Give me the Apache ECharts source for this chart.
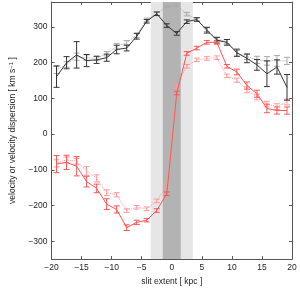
<!DOCTYPE html>
<html>
<head>
<meta charset="utf-8">
<script src="https://cdn.jsdelivr.net/npm/echarts@6/dist/echarts.min.js"></script>
<style>
html,body{margin:0;padding:0;background:#fff;}
#chart{width:300px;height:291px;}
</style>
</head>
<body>
<div id="chart"></div>
<script>
// slit positions (kpc)
const xs = [-19.17,-17.5,-15.83,-14.17,-12.5,-10.83,-9.17,-7.5,-5.83,-4.17,-2.5,-0.83,0.83,2.5,4.17,5.83,7.5,9.17,10.83,12.5,14.17,15.83,17.5,19.17];
// velocity dispersion (solid black) and error
const dispSolid = [161,200,222,206,208,214,237,241,274,316,337,304,282,315,321,291,263,257,228,212,194,169,188,131];
const dispSolidErr = [30,17,37,17,10,10,12,8,8,5,5,5,5,5,5,8,8,8,10,12,15,36,20,36];
// velocity dispersion (dotted grey) and error
const dispDotted = [180,195,217,214,212,225,246,256,277,320,337,357,361,336,321,293,265,259,226,217,208,205,205,205];
const dispDottedErr = [10,8,10,8,6,6,8,6,6,5,5,3,3,5,5,6,6,6,8,8,10,12,15,10];
// velocity (solid red) and error
const velSolid = [-84,-79,-90,-133,-152,-196,-211,-262,-247,-241,-214,-167,115,226,241,257,257,190,174,136,113,72,66,66];
const velSolidErr = [24,20,27,15,12,15,10,8,6,5,5,5,5,5,5,5,5,5,8,10,10,12,10,10];
// velocity (dotted pink) and error
const velDotted = [-82,-72,-76,-103,-124,-164,-170,-214,-205,-209,-187,-145,134,190,208,212,214,163,151,124,104,84,77,90];
const velDottedErr = [10,8,8,12,10,8,6,5,5,5,5,5,5,5,5,5,5,5,6,8,8,8,8,8];
// tick values
const xTicks = [-20,-15,-10,-5,0,5,10,15,20];
const yTicks = [-300,-200,-100,0,100,200,300];
// shaded bands (kpc)
const lightBand = [-3.5,3.5];
const darkBand = [-1.5,1.5];

function fmt(v){ return String(v).replace('-', '\u2212'); }

function errSeries(ys, es, color, z){
  return {
    type:'custom', z:z, clip:true, silent:true,
    renderItem:function(params, api){
      const x = api.value(0), y = api.value(1), e = api.value(2);
      const t = api.coord([x, y+e]);
      const b = api.coord([x, y-e]);
      const w = 3;
      const st = {stroke:color, lineWidth:1};
      return {type:'group', children:[
        {type:'line', shape:{x1:t[0],y1:t[1],x2:b[0],y2:b[1]}, style:st},
        {type:'line', shape:{x1:t[0]-w,y1:t[1],x2:t[0]+w,y2:t[1]}, style:st},
        {type:'line', shape:{x1:b[0]-w,y1:b[1],x2:b[0]+w,y2:b[1]}, style:st}
      ]};
    },
    data: xs.map((x,i)=>[x, ys[i], es[i]])
  };
}
function lineSeries(ys, color, type, z){
  return {
    type:'line', z:z, showSymbol:false, silent:true,
    lineStyle:{color:color, width:1, type:type},
    data: xs.map((x,i)=>[x, ys[i]])
  };
}

const font = 'Liberation Sans, Arial, sans-serif';
const chart = echarts.init(document.getElementById('chart'), null, {renderer:'canvas'});
function tickCfg(vals){
  const t = {show:true, inside:true, length:3, lineStyle:{color:'#555'}};
  if (vals) t.customValues = vals;
  return t;
}
const lineCfg = {show:true, onZero:false, lineStyle:{color:'#555', width:1}};
chart.setOption({
  animation:false,
  backgroundColor:'#fff',
  grid:{left:40, right:8, top:2, bottom:24, containLabel:false},
  xAxis:[
    {type:'value', position:'bottom', min:-20, max:20, interval:5,
      axisLine:lineCfg, axisTick:tickCfg(), splitLine:{show:false},
      name:'slit extent [ kpc ]', nameLocation:'middle', nameGap:13,
      nameTextStyle:{fontSize:8.5, color:'#222', fontFamily:font},
      axisLabel:{fontSize:8.5, color:'#222', fontFamily:font, margin:4, formatter:fmt}},
    {type:'value', position:'top', min:-20, max:20, interval:5,
      axisLine:lineCfg, axisTick:tickCfg(), splitLine:{show:false},
      axisLabel:{show:false}}
  ],
  yAxis:[
    {type:'value', position:'left', min:-350, max:370,
      axisLine:lineCfg, axisTick:tickCfg(yTicks), splitLine:{show:false},
      name:'velocity or velocity dispersion [ km s{sup|\u22121} ]', nameLocation:'middle', nameGap:25,
      nameTextStyle:{fontSize:8.5, color:'#222', fontFamily:font,
        rich:{sup:{fontSize:6, color:'#222', fontFamily:font, verticalAlign:'top', padding:[0,0,4,0]}}},
      axisLabel:{fontSize:8.5, color:'#222', fontFamily:font, margin:4, formatter:fmt,
        customValues:yTicks}},
    {type:'value', position:'right', min:-350, max:370,
      axisLine:lineCfg, axisTick:tickCfg(yTicks), splitLine:{show:false},
      axisLabel:{show:false}}
  ],
  series:[
    {type:'line', z:0, data:[], silent:true,
      markArea:{silent:true, data:[
        [{xAxis:lightBand[0], itemStyle:{color:'#e6e6e6'}},{xAxis:lightBand[1]}],
        [{xAxis:darkBand[0], itemStyle:{color:'#b3b3b3'}},{xAxis:darkBand[1]}]
      ]}},
    lineSeries(dispDotted, '#aaaaaa', 'dotted', 2),
    errSeries(dispDotted, dispDottedErr, '#aaaaaa', 2),
    lineSeries(velDotted, '#ff9a9a', 'dotted', 2),
    errSeries(velDotted, velDottedErr, '#ff9a9a', 2),
    lineSeries(dispSolid, '#333333', 'solid', 3),
    errSeries(dispSolid, dispSolidErr, '#333333', 3),
    lineSeries(velSolid, '#ff5555', 'solid', 3),
    errSeries(velSolid, velSolidErr, '#ff5555', 3)
  ]
});
</script>
</body>
</html>
